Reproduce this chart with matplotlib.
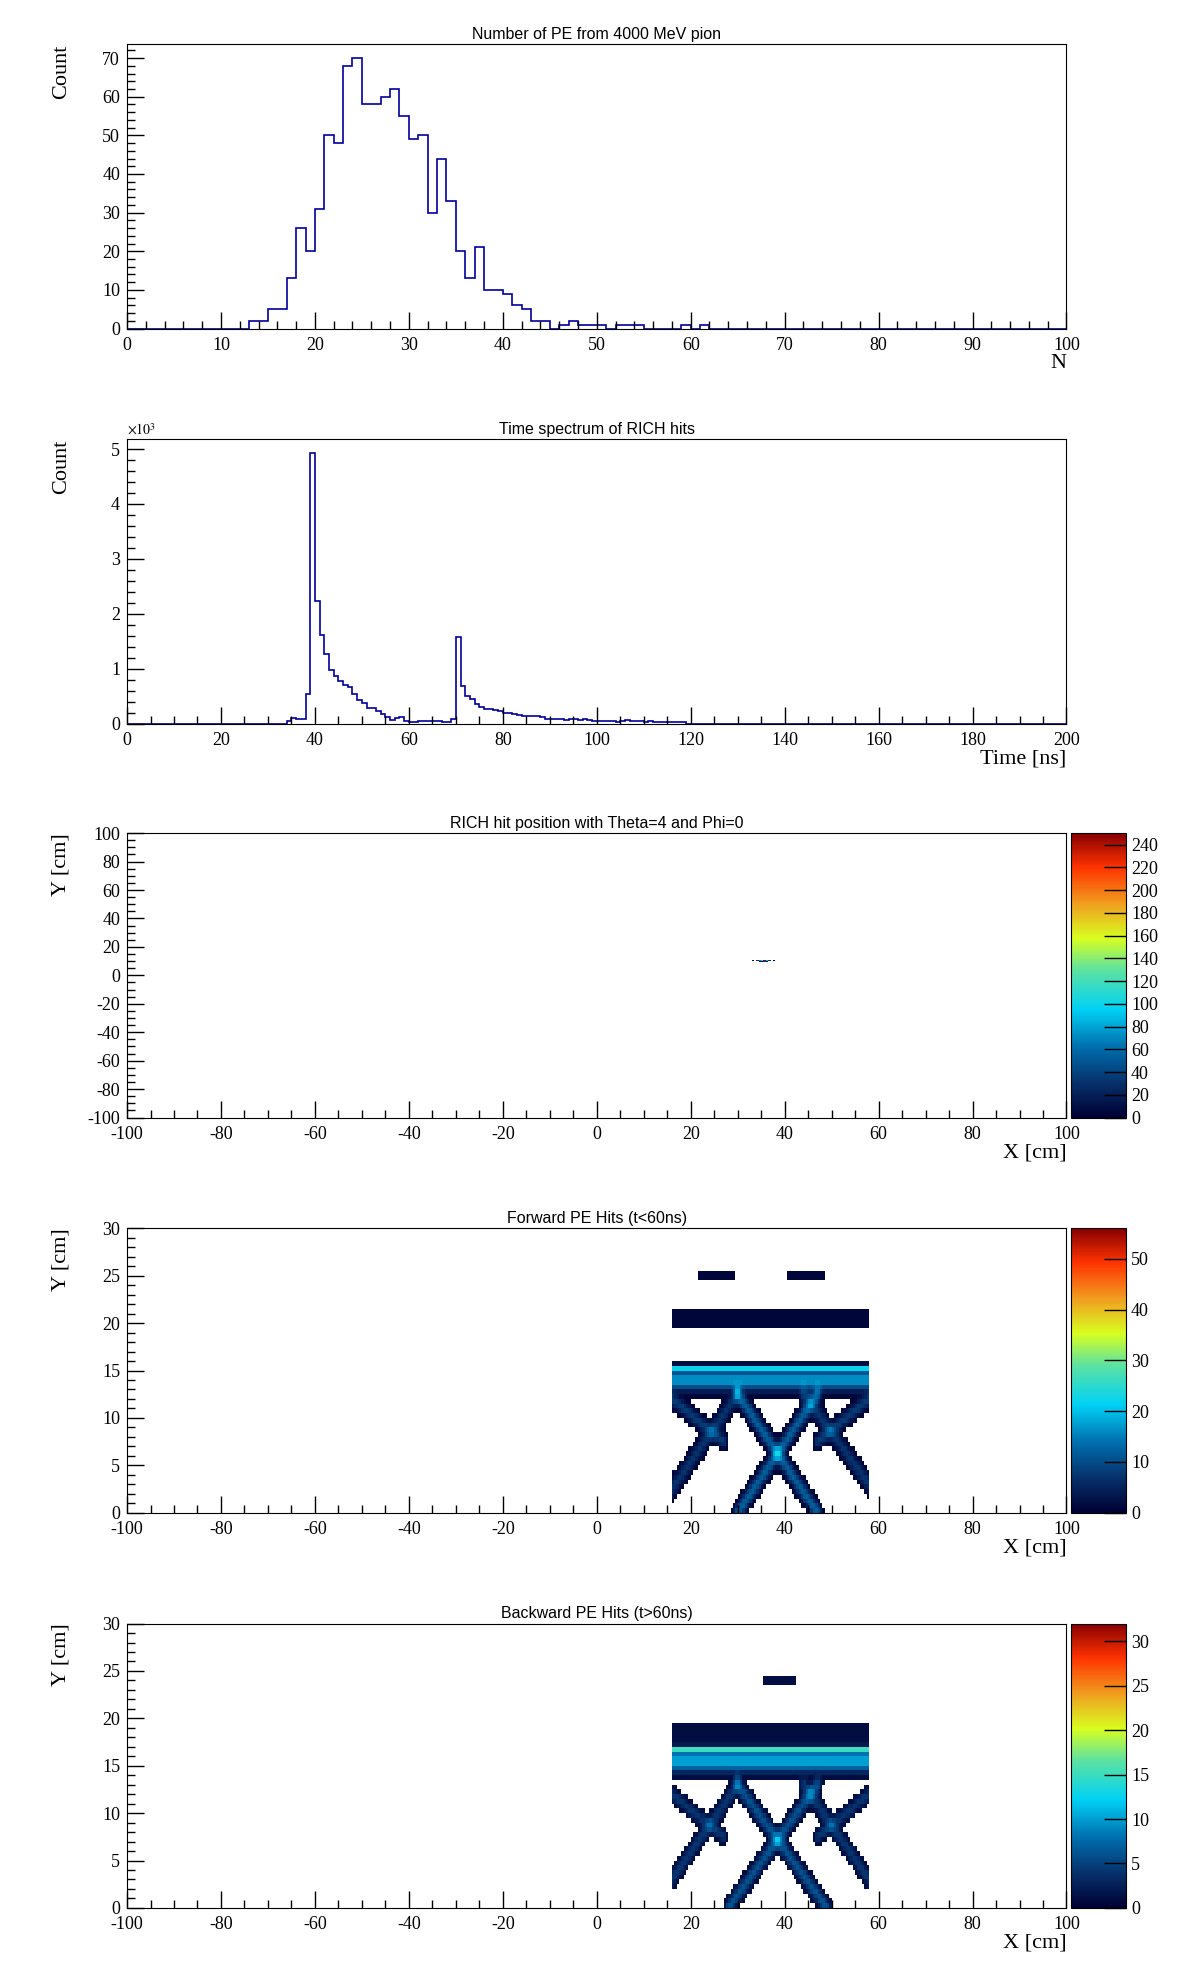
import numpy as np
import matplotlib
matplotlib.use("Agg")
import matplotlib.pyplot as plt
from matplotlib.colors import LinearSegmentedColormap
from matplotlib.ticker import MultipleLocator

plt.rcParams["font.family"] = ["Liberation Serif", "DejaVu Serif"]
plt.rcParams["axes.unicode_minus"] = False
plt.rcParams["mathtext.fontset"] = "stix"

# ---------------- data ----------------
npe_edges = np.arange(0, 101, 1)
npe_counts = np.zeros(100)
npe_bins = list(range(13, 62))
npe_vals = [2, 2, 5, 5, 13, 26, 20, 31, 50, 48, 68, 70, 58, 58, 60, 62, 55, 49, 50, 30,
            44, 33, 20, 13, 21, 10, 10, 9, 6, 5, 2, 2, 0, 1, 2, 1, 1, 1, 0, 1,
            1, 1, 0, 0, 0, 0, 1, 0, 1]
npe_counts[npe_bins] = npe_vals

time_edges = np.arange(0, 201, 1)
time_counts = np.zeros(200)
time_bins = list(range(34, 119))
time_vals = [50, 100, 80, 80, 530, 4930, 2230, 1610, 1260, 980, 860, 770, 710, 660, 530, 430,
             380, 280, 280, 230, 170, 120, 60, 100, 120, 50, 30, 30, 50, 50, 50, 50, 40, 20,
             20, 80, 1570, 680, 500, 440, 350, 310, 260, 270, 240, 220, 190, 190, 170, 150,
             130, 130, 130, 130, 110, 90, 80, 80, 80, 60, 80, 80, 60, 80, 60, 50, 50, 50,
             50, 50, 30, 50, 70, 50, 50, 50, 30, 40, 30, 30, 30, 30, 30, 30, 20]
time_counts[time_bins] = time_vals

# RICH hit position (Theta=4, Phi=0): occupied cells (x, y, count)
pos_x = [33.0, 34.0, 34.5, 35.0, 35.5, 36.0, 36.5, 37.5, 34.5, 35.0, 35.5, 36.0]
pos_y = [10.0, 10.0, 10.0, 10.0, 10.0, 10.0, 10.0, 10.0, 9.5, 9.5, 9.5, 9.5]
pos_c = [4, 30, 70, 110, 248, 90, 30, 4, 12, 20, 40, 10]

# Hit-map structure: segments (x0, y0, x1, y1, peak, width)
fwd_segments = [
    (16, 15.25, 58, 15.25, 18, 0.3), (16, 14.0, 58, 14.0, 17, 1.0),
    (30, 0, 47, 12.5, 12, 0.8), (47, 0, 30, 12.5, 12, 0.8),
    (16, 2.5, 30, 12.5, 7, 0.8), (58, 3.0, 44, 12.5, 7, 0.8),
    (16, 12, 27, 7.5, 8, 0.7), (58, 12, 47, 7.5, 8, 0.7),
    (16, 20.5, 58, 20.5, 1.6, 0.9),
    (22, 25.0, 29, 25.0, 1.4, 0.7), (41, 25.0, 48, 25.0, 1.4, 0.7),
]
bwd_segments = [
    (16, 16.75, 58, 16.75, 12, 0.3), (16, 15.5, 58, 15.5, 11, 1.1),
    (28, 0, 47, 13, 6, 0.8), (49, 0, 30, 13, 6, 0.8),
    (16, 3, 30, 13, 4, 0.8), (58, 3, 44, 13, 4, 0.8),
    (16, 12, 27, 7.5, 4, 0.7), (58, 12, 47, 7.5, 4, 0.7),
    (16, 18.5, 58, 18.5, 1.4, 0.8),
    (36, 24.0, 42, 24.0, 1.3, 0.6),
]

# ---------------- helpers ----------------
def seg_map(segments, xc, yc):
    X, Y = np.meshgrid(xc, yc)
    Z = np.zeros_like(X)
    for x0, y0, x1, y1, pk, w in segments:
        dx, dy = x1 - x0, y1 - y0
        t = np.clip(((X - x0) * dx + (Y - y0) * dy) / (dx * dx + dy * dy), 0, 1)
        d = np.hypot(X - (x0 + t * dx), Y - (y0 + t * dy))
        Z += pk * np.exp(-(d / w) ** 2)
    Z[(X < 16) | (X > 58) | (Y > 28)] = 0
    Z = np.round(Z)
    return np.ma.masked_less(Z, 1)

cmap = LinearSegmentedColormap.from_list("rootrb", [
    (0.0, "#000033"), (0.12, "#06306a"), (0.25, "#0070b0"), (0.38, "#00d2f5"),
    (0.52, "#5ee2a0"), (0.63, "#d8ff20"), (0.75, "#f0a020"), (0.88, "#ff3300"),
    (1.0, "#880000")])

sans = "Liberation Sans"

def style(ax, xmaj, xmin, ymaj, ymin):
    ax.xaxis.set_major_locator(MultipleLocator(xmaj))
    ax.xaxis.set_minor_locator(MultipleLocator(xmin))
    ax.yaxis.set_major_locator(MultipleLocator(ymaj))
    ax.yaxis.set_minor_locator(MultipleLocator(ymin))
    ax.tick_params(which="both", direction="in", top=False, right=False, labelsize=13)
    ax.tick_params(which="major", length=12, width=1)
    ax.tick_params(which="minor", length=6, width=1)
    ax.tick_params(axis="y", pad=5)
    ax.tick_params(axis="x", pad=6)

fig = plt.figure(figsize=(11.96, 19.72), dpi=100)
L, W, H = 0.1062, 0.7855, 0.1442
bottoms = [0.8334, 0.6331, 0.4333, 0.2329, 0.0325]
CBL, CBW = 0.8959, 0.0452

def title(ax, t):
    ax.set_title(t, fontsize=11.5, fontfamily=sans, pad=4)

def xlabel(ax, t):
    ax.text(1.0, -0.09, t, transform=ax.transAxes, ha="right", va="top", fontsize=16)

def ylabel(ax, t):
    ax.text(-0.07, 1.0, t, transform=ax.transAxes, ha="center", va="top", rotation=90, fontsize=16)

blue = "#000099"

# Panel 1
ax = fig.add_axes([L, bottoms[0], W, H])
ax.stairs(npe_counts, npe_edges, color=blue, lw=1.2)
ax.set_xlim(0, 100); ax.set_ylim(0, 73.6)
style(ax, 10, 2, 10, 2)
title(ax, "Number of PE from 4000 MeV pion")
xlabel(ax, "N"); ylabel(ax, "Count")

# Panel 2
ax = fig.add_axes([L, bottoms[1], W, H])
ax.stairs(time_counts / 1000.0, time_edges, color=blue, lw=1.2)
ax.set_xlim(0, 200); ax.set_ylim(0, 5.18)
style(ax, 20, 5, 1, 0.2)
title(ax, "Time spectrum of RICH hits")
xlabel(ax, "Time [ns]"); ylabel(ax, "Count")
ax.text(0.0, 1.005, r"$\times10^{3}$", transform=ax.transAxes, ha="left", va="bottom", fontsize=10)

# Panel 3
ax = fig.add_axes([L, bottoms[2], W, H])
xe = np.arange(-100, 100.01, 0.5); ye = np.arange(-100, 100.01, 0.5)
Z3 = np.zeros((len(ye) - 1, len(xe) - 1))
for x, y, c in zip(pos_x, pos_y, pos_c):
    Z3[int((y + 100) / 0.5), int((x + 100) / 0.5)] = c
m = ax.pcolormesh(xe, ye, np.ma.masked_less(Z3, 1), cmap=cmap, vmin=0, vmax=250)
ax.set_xlim(-100, 100); ax.set_ylim(-100, 100)
style(ax, 20, 5, 20, 5)
title(ax, "RICH hit position with Theta=4 and Phi=0")
xlabel(ax, "X [cm]"); ylabel(ax, "Y [cm]")
cax = fig.add_axes([CBL, bottoms[2], CBW, H])
cbs = [fig.colorbar(m, cax=cax, ticks=np.arange(0, 241, 20))]

# Panels 4, 5
xe2 = np.arange(-100, 100.01, 0.5); ye2 = np.arange(0, 30.01, 0.5)
xc2 = 0.5 * (xe2[:-1] + xe2[1:]); yc2 = 0.5 * (ye2[:-1] + ye2[1:])
for i, (segs, ttl, vmax, step) in enumerate([
        (fwd_segments, "Forward PE Hits (t<60ns)", 56, 10),
        (bwd_segments, "Backward PE Hits (t>60ns)", 32, 5)]):
    ax = fig.add_axes([L, bottoms[3 + i], W, H])
    Z = seg_map(segs, xc2, yc2)
    m = ax.pcolormesh(xe2, ye2, Z, cmap=cmap, vmin=0, vmax=vmax)
    ax.set_xlim(-100, 100); ax.set_ylim(0, 30)
    style(ax, 20, 5, 5, 1)
    title(ax, ttl)
    xlabel(ax, "X [cm]"); ylabel(ax, "Y [cm]")
    cax = fig.add_axes([CBL, bottoms[3 + i], CBW, H])
    cbs.append(fig.colorbar(m, cax=cax, ticks=np.arange(0, vmax + 0.1, step)))

for cb in cbs:
    cb.outline.set_linewidth(0.8)
    cb.ax.tick_params(direction="in", length=16, width=1, labelsize=13, left=False, right=True, pad=4)

fig.savefig("out.png", dpi=100)
